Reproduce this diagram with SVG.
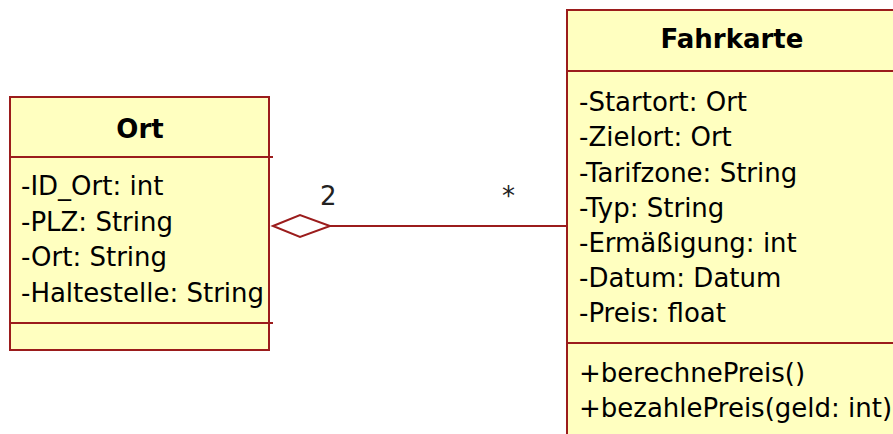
<svg xmlns="http://www.w3.org/2000/svg" width="893" height="434" viewBox="0 0 893 434">
  <style>
    .box { fill: #ffffc0; stroke: #9b1c1c; stroke-width: 2; }
    .sep { stroke: #9b1c1c; stroke-width: 2; fill: none; }
    .title { font-family: "DejaVu Sans", Verdana, sans-serif; font-size: 26px; font-weight: bold; fill: #000; text-anchor: middle; }
    .attr { font-family: "DejaVu Sans", Verdana, sans-serif; font-size: 26px; fill: #000; }
    .edge { stroke: #9b1c1c; stroke-width: 2; fill: none; }
    .diamond { stroke: #9b1c1c; stroke-width: 2; fill: #ffffff; }
    .mult { font-family: "DejaVu Sans", Verdana, sans-serif; font-size: 26px; fill: #222; }
  </style>
  <rect width="893" height="434" fill="#ffffff"/>

  <!-- class Ort -->
  <g id="ort">
    <rect class="box" x="10" y="97" width="259" height="253"/>
    <line class="sep" x1="10" y1="157" x2="273" y2="157"/>
    <line class="sep" x1="10" y1="323" x2="273" y2="323"/>
    <text class="title" x="140" y="138">Ort</text>
    <text class="attr" x="21" y="195">-ID_Ort: int</text>
    <text class="attr" x="21" y="230.5">-PLZ: String</text>
    <text class="attr" x="21" y="266">-Ort: String</text>
    <text class="attr" x="21" y="301.5">-Haltestelle: String</text>
  </g>

  <!-- class Fahrkarte -->
  <g id="fahrkarte">
    <rect class="box" x="567" y="10" width="340" height="440"/>
    <line class="sep" x1="567" y1="71" x2="893" y2="71"/>
    <line class="sep" x1="567" y1="343" x2="893" y2="343"/>
    <text class="title" x="732" y="48">Fahrkarte</text>
    <text class="attr" x="579" y="111">-Startort: Ort</text>
    <text class="attr" x="579" y="146">-Zielort: Ort</text>
    <text class="attr" x="579" y="182">-Tarifzone: String</text>
    <text class="attr" x="579" y="217">-Typ: String</text>
    <text class="attr" x="579" y="252">-Ermäßigung: int</text>
    <text class="attr" x="579" y="287">-Datum: Datum</text>
    <text class="attr" x="579" y="322">-Preis: float</text>
    <text class="attr" x="579" y="382">+berechnePreis()</text>
    <text class="attr" x="579" y="417">+bezahlePreis(geld: int)</text>
  </g>

  <!-- aggregation Fahrkarte -> Ort -->
  <g id="connectors">
    <line class="edge" x1="330" y1="226" x2="567" y2="226"/>
    <polygon class="diamond" points="273,226 300,215 330,226 300,237"/>
    <text class="mult" x="320" y="205">2</text>
    <text class="mult" x="502" y="205">*</text>
  </g>
</svg>
